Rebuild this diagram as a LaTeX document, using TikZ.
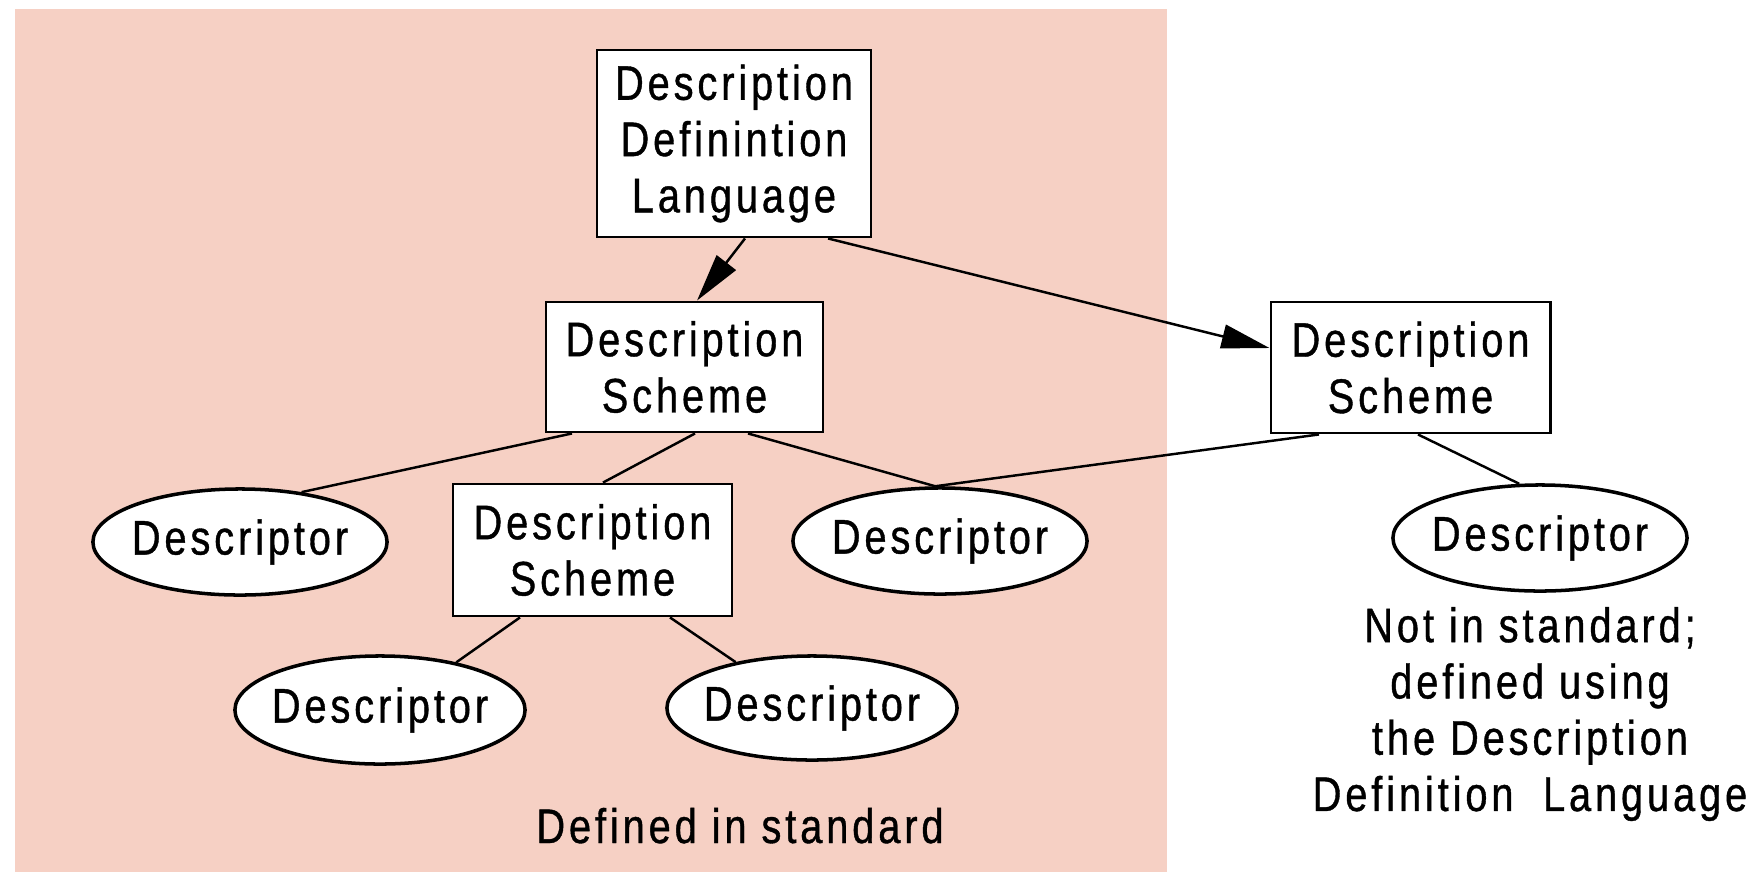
\documentclass[tikz,border=0pt]{standalone}
\usepackage{fontspec}
\setmainfont{Liberation Sans}[FakeStretch=0.82,LetterSpace=8,FakeBold=0.8]
\usetikzlibrary{arrows.meta,shapes.geometric,calc}
\definecolor{stdpink}{RGB}{246,208,196}
\begin{document}
\begin{tikzpicture}[x=0.01cm,y=-0.01cm,
  every node/.style={font=\fontsize{13.8pt}{16pt}\selectfont},
  scheme/.style={draw=black,fill=white,line width=0.8pt,align=center,inner sep=0pt},
  descr/.style={ellipse,draw=black,fill=white,line width=1pt,inner sep=0pt,
                minimum width=2.94cm,minimum height=1.06cm},
  link/.style={line width=0.7pt},
  arr/.style={link,-{Triangle[length=0.48cm,width=0.24cm]}}]
\useasboundingbox (0,0) rectangle (1760,872);
% area of the elements defined in the standard
\fill[stdpink] (15,9) rectangle (1167,872);

% schemes
\node[scheme,minimum width=2.74cm,minimum height=1.87cm] (ddl) at (734,143.5)
  {Description\\Definintion\\Language};
\node[scheme,minimum width=2.77cm,minimum height=1.30cm] (ds1) at (684.5,367)
  {Description\\Scheme};
\node[scheme,minimum width=2.79cm,minimum height=1.31cm] (ds3) at (1410.5,367.5)
  {Description\\Scheme};
\node[scheme,minimum width=2.79cm,minimum height=1.32cm] (ds2) at (592.5,550)
  {Description\\Scheme};

% descriptors
\node[descr] (d1) at (240,542) {\makebox[0pt]{Descriptor}};
\node[descr] (d2) at (940,541) {\makebox[0pt]{Descriptor}};
\node[descr,minimum width=2.90cm,minimum height=1.08cm] (d3) at (380,710) {\makebox[0pt]{Descriptor}};
\node[descr,minimum width=2.90cm,minimum height=1.04cm] (d4) at (812,708) {\makebox[0pt]{Descriptor}};
\node[descr] (d5) at (1540,538) {\makebox[0pt]{Descriptor}};

% captions
\node[anchor=base] (instd) at (740,843) {Defined in standard};
\node[align=center] (notstd) at (1530,714)
  {Not in standard;\\defined using\\the Description\\Definition\hspace{0.3em} Language};

% connectors
\draw[arr] ($(ddl.south)+(11,0)$) -- ($(ds1.north)+(12.5,0)$);
\draw[arr] ($(ddl.south)+(94,0)$) -- ($(ds3.west)+(0,-19.5)$);
\draw[link] ($(ds1.south)+(-112.5,0)$) -- (d1.39);
\draw[link] ($(ds1.south)+(10.5,0)$) -- ($(ds2.north)+(10.5,0)$);
\draw[link] ($(ds1.south)+(63.5,0)$) -- (d2.95);
\draw[link] ($(ds3.south)+(-91.5,0)$) -- (d2.95);
\draw[link] ($(ds3.south)+(7.5,0)$) -- (d5.111);
\draw[link] ($(ds2.south)+(-72.5,0)$) -- (d3.32);
\draw[link] ($(ds2.south)+(77.5,0)$) -- (d4.149);
\end{tikzpicture}
\end{document}
